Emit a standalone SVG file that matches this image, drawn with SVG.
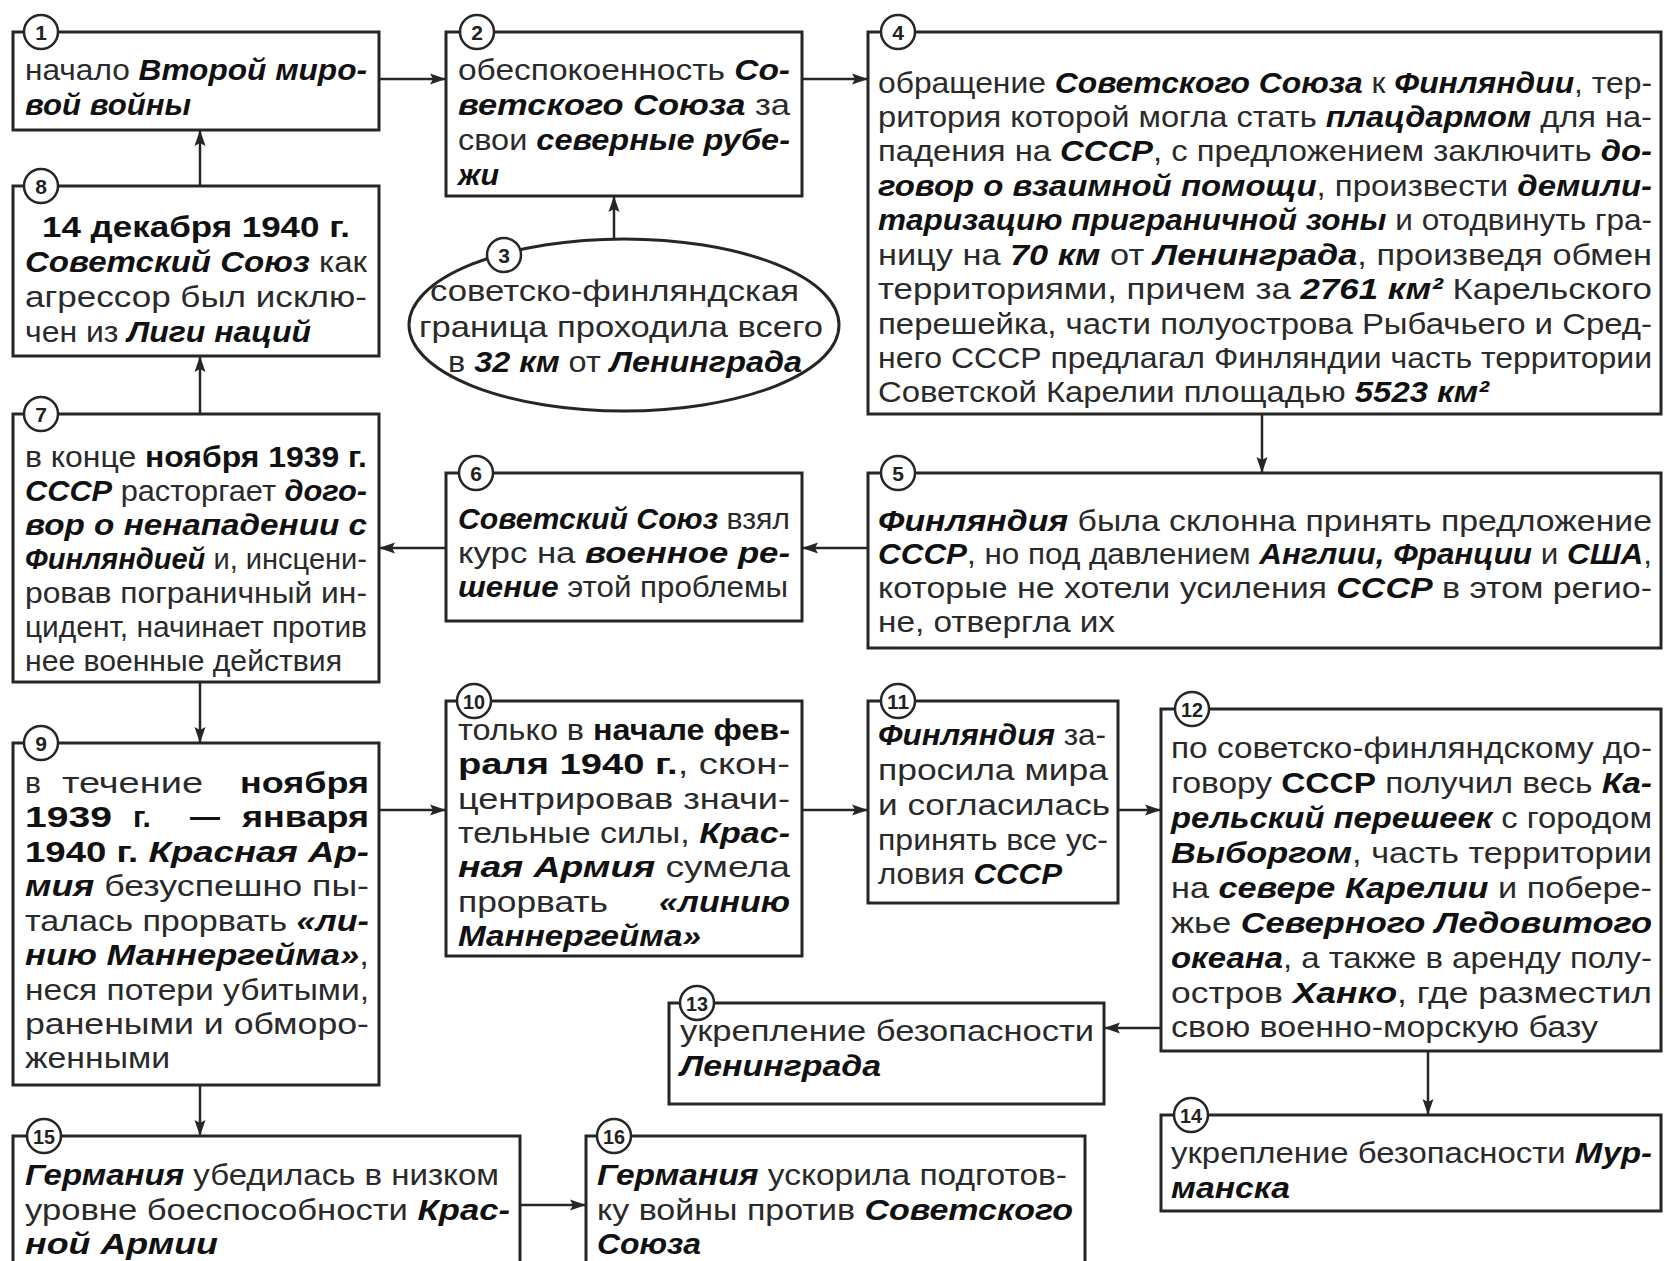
<svg xmlns="http://www.w3.org/2000/svg" width="1665" height="1261" viewBox="0 0 1665 1261">
<style>
.box{fill:#fff;stroke:#262626;stroke-width:3}
.num{fill:#fff;stroke:#262626;stroke-width:2.5}
.t{font-family:"Liberation Sans",Arial,sans-serif;font-size:30px;fill:#2a2a2a}
.b{font-weight:bold;font-style:italic;fill:#111}
.bu{font-weight:bold;fill:#111}
.n{font-family:"Liberation Sans",Arial,sans-serif;font-size:21px;font-weight:bold;fill:#222;text-anchor:middle}
.c{stroke:#262626;stroke-width:2.5;fill:none;marker-end:url(#ah)}
</style>
<defs>
<marker id="ah" markerUnits="userSpaceOnUse" markerWidth="18" markerHeight="14" refX="16" refY="7" orient="auto">
<path d="M0,1.5 L16,7 L0,12.5 L3,7 z" fill="#262626"/>
</marker>
</defs>
<rect width="1665" height="1261" fill="#fff"/>

<g id="connectors">
<line class="c" x1="379" y1="79" x2="446" y2="79"/>
<line class="c" x1="802" y1="79" x2="868" y2="79"/>
<line class="c" x1="200" y1="186" x2="200" y2="130"/>
<line class="c" x1="614" y1="239" x2="614" y2="196"/>
<line class="c" x1="200" y1="414" x2="200" y2="356"/>
<line class="c" x1="1262" y1="414" x2="1262" y2="473"/>
<line class="c" x1="868" y1="548" x2="802" y2="548"/>
<line class="c" x1="446" y1="548" x2="379" y2="548"/>
<line class="c" x1="200" y1="680" x2="200" y2="743"/>
<line class="c" x1="379" y1="810" x2="446" y2="810"/>
<line class="c" x1="802" y1="810" x2="868" y2="810"/>
<line class="c" x1="1118" y1="810" x2="1161" y2="810"/>
<line class="c" x1="1161" y1="1028" x2="1104" y2="1028"/>
<line class="c" x1="1428" y1="1051" x2="1428" y2="1115"/>
<line class="c" x1="200" y1="1085" x2="200" y2="1136"/>
<line class="c" x1="520" y1="1205" x2="586" y2="1205"/>
</g>

<g id="node1">
<rect class="box" x="13" y="32" width="366" height="98"/>
<circle class="num" cx="41" cy="32" r="17"/><text class="n" x="41" y="40">1</text>
<text class="t" x="25" y="80" textLength="342" lengthAdjust="spacingAndGlyphs">начало <tspan class="b">Второй миро-</tspan></text>
<text class="t" x="25" y="115" textLength="166" lengthAdjust="spacingAndGlyphs"><tspan class="b">вой войны</tspan></text>
</g>

<g id="node2">
<rect class="box" x="446" y="32" width="356" height="164"/>
<circle class="num" cx="477" cy="32" r="17"/><text class="n" x="477" y="40">2</text>
<text class="t" x="458" y="80" textLength="332" lengthAdjust="spacingAndGlyphs">обеспокоенность <tspan class="b">Со-</tspan></text>
<text class="t" x="458" y="115" textLength="332" lengthAdjust="spacingAndGlyphs"><tspan class="b">ветского Союза</tspan> за</text>
<text class="t" x="458" y="150" textLength="332" lengthAdjust="spacingAndGlyphs">свои <tspan class="b">северные рубе-</tspan></text>
<text class="t" x="458" y="185" textLength="41" lengthAdjust="spacingAndGlyphs"><tspan class="b">жи</tspan></text>
</g>

<g id="node3">
<ellipse class="box" cx="624" cy="325" rx="215" ry="86"/>
<circle class="num" cx="504" cy="255" r="17"/><text class="n" x="504" y="263">3</text>
<text class="t" x="430" y="301" textLength="369" lengthAdjust="spacingAndGlyphs">советско-финляндская</text>
<text class="t" x="419" y="337" textLength="404" lengthAdjust="spacingAndGlyphs">граница проходила всего</text>
<text class="t" x="448" y="372" textLength="354" lengthAdjust="spacingAndGlyphs">в <tspan class="b">32 км</tspan> от <tspan class="b">Ленинграда</tspan></text>
</g>

<g id="node4">
<rect class="box" x="868" y="32" width="793" height="382"/>
<circle class="num" cx="898" cy="32" r="17"/><text class="n" x="898" y="40">4</text>
<text class="t" x="878" y="93" textLength="774" lengthAdjust="spacingAndGlyphs">обращение <tspan class="b">Советского Союза</tspan> к <tspan class="b">Финляндии</tspan>, тер-</text>
<text class="t" x="878" y="127" textLength="774" lengthAdjust="spacingAndGlyphs">ритория которой могла стать <tspan class="b">плацдармом</tspan> для на-</text>
<text class="t" x="878" y="161" textLength="774" lengthAdjust="spacingAndGlyphs">падения на <tspan class="b">СССР</tspan>, с предложением заключить <tspan class="b">до-</tspan></text>
<text class="t" x="878" y="196" textLength="774" lengthAdjust="spacingAndGlyphs"><tspan class="b">говор о взаимной помощи</tspan>, произвести <tspan class="b">демили-</tspan></text>
<text class="t" x="878" y="230" textLength="774" lengthAdjust="spacingAndGlyphs"><tspan class="b">таризацию приграничной зоны</tspan> и отодвинуть гра-</text>
<text class="t" x="878" y="265" textLength="774" lengthAdjust="spacingAndGlyphs">ницу на <tspan class="b">70 км</tspan> от <tspan class="b">Ленинграда</tspan>, произведя обмен</text>
<text class="t" x="878" y="299" textLength="774" lengthAdjust="spacingAndGlyphs">территориями, причем за <tspan class="b">2761 км²</tspan> Карельского</text>
<text class="t" x="878" y="334" textLength="774" lengthAdjust="spacingAndGlyphs">перешейка, части полуострова Рыбачьего и Сред-</text>
<text class="t" x="878" y="368" textLength="774" lengthAdjust="spacingAndGlyphs">него СССР предлагал Финляндии часть территории</text>
<text class="t" x="878" y="402" textLength="611" lengthAdjust="spacingAndGlyphs">Советской Карелии площадью <tspan class="b">5523 км²</tspan></text>
</g>

<g id="node8">
<rect class="box" x="13" y="186" width="366" height="170"/>
<circle class="num" cx="41" cy="186" r="17"/><text class="n" x="41" y="194">8</text>
<text class="t" x="42" y="237" textLength="308" lengthAdjust="spacingAndGlyphs"><tspan class="bu">14 декабря 1940 г.</tspan></text>
<text class="t" x="25" y="272" textLength="342" lengthAdjust="spacingAndGlyphs"><tspan class="b">Советский Союз</tspan> как</text>
<text class="t" x="25" y="307" textLength="342" lengthAdjust="spacingAndGlyphs">агрессор был исклю-</text>
<text class="t" x="25" y="342" textLength="286" lengthAdjust="spacingAndGlyphs">чен из <tspan class="b">Лиги наций</tspan></text>
</g>

<g id="node7">
<rect class="box" x="13" y="414" width="366" height="268"/>
<circle class="num" cx="41" cy="414" r="17"/><text class="n" x="41" y="422">7</text>
<text class="t" x="25" y="467" textLength="342" lengthAdjust="spacingAndGlyphs">в конце <tspan class="bu">ноября 1939 г.</tspan></text>
<text class="t" x="25" y="501" textLength="342" lengthAdjust="spacingAndGlyphs"><tspan class="b">СССР</tspan> расторгает <tspan class="b">дого-</tspan></text>
<text class="t" x="25" y="535" textLength="342" lengthAdjust="spacingAndGlyphs"><tspan class="b">вор о ненападении с</tspan></text>
<text class="t" x="25" y="569" textLength="342" lengthAdjust="spacingAndGlyphs"><tspan class="b">Финляндией</tspan> и, инсцени-</text>
<text class="t" x="25" y="603" textLength="342" lengthAdjust="spacingAndGlyphs">ровав пограничный ин-</text>
<text class="t" x="25" y="637" textLength="342" lengthAdjust="spacingAndGlyphs">цидент, начинает против</text>
<text class="t" x="25" y="671" textLength="317" lengthAdjust="spacingAndGlyphs">нее военные действия</text>
</g>

<g id="node6">
<rect class="box" x="446" y="473" width="356" height="148"/>
<circle class="num" cx="476" cy="473" r="17"/><text class="n" x="476" y="481">6</text>
<text class="t" x="458" y="529" textLength="332" lengthAdjust="spacingAndGlyphs"><tspan class="b">Советский Союз</tspan> взял</text>
<text class="t" x="458" y="563" textLength="332" lengthAdjust="spacingAndGlyphs">курс на <tspan class="b">военное ре-</tspan></text>
<text class="t" x="458" y="597" textLength="330" lengthAdjust="spacingAndGlyphs"><tspan class="b">шение</tspan> этой проблемы</text>
</g>

<g id="node5">
<rect class="box" x="868" y="473" width="793" height="175"/>
<circle class="num" cx="898" cy="473" r="17"/><text class="n" x="898" y="481">5</text>
<text class="t" x="878" y="531" textLength="774" lengthAdjust="spacingAndGlyphs"><tspan class="b">Финляндия</tspan> была склонна принять предложение</text>
<text class="t" x="878" y="564" textLength="774" lengthAdjust="spacingAndGlyphs"><tspan class="b">СССР</tspan>, но под давлением <tspan class="b">Англии, Франции</tspan> и <tspan class="b">США</tspan>,</text>
<text class="t" x="878" y="598" textLength="774" lengthAdjust="spacingAndGlyphs">которые не хотели усиления <tspan class="b">СССР</tspan> в этом регио-</text>
<text class="t" x="878" y="632" textLength="237" lengthAdjust="spacingAndGlyphs">не, отвергла их</text>
</g>

<g id="node9">
<rect class="box" x="13" y="743" width="366" height="342"/>
<circle class="num" cx="41" cy="743" r="17"/><text class="n" x="41" y="751">9</text>
<text class="t" y="793"><tspan x="25">в</tspan><tspan x="62" textLength="141" lengthAdjust="spacingAndGlyphs">течение</tspan><tspan class="bu" x="240" textLength="129" lengthAdjust="spacingAndGlyphs">ноября</tspan></text>
<text class="t bu" y="827"><tspan x="25" textLength="87" lengthAdjust="spacingAndGlyphs">1939</tspan><tspan x="133">г.</tspan><tspan x="190">—</tspan><tspan x="242" textLength="127" lengthAdjust="spacingAndGlyphs">января</tspan></text>
<text class="t" x="25" y="862" textLength="344" lengthAdjust="spacingAndGlyphs"><tspan class="bu">1940 г. </tspan><tspan class="b">Красная Ар-</tspan></text>
<text class="t" x="25" y="896" textLength="344" lengthAdjust="spacingAndGlyphs"><tspan class="b">мия</tspan> безуспешно пы-</text>
<text class="t" x="25" y="931" textLength="344" lengthAdjust="spacingAndGlyphs">талась прорвать <tspan class="b">«ли-</tspan></text>
<text class="t" x="25" y="965" textLength="344" lengthAdjust="spacingAndGlyphs"><tspan class="b">нию Маннергейма»</tspan>,</text>
<text class="t" x="25" y="1000" textLength="344" lengthAdjust="spacingAndGlyphs">неся потери убитыми,</text>
<text class="t" x="25" y="1034" textLength="344" lengthAdjust="spacingAndGlyphs">ранеными и обморо-</text>
<text class="t" x="25" y="1068" textLength="145" lengthAdjust="spacingAndGlyphs">женными</text>
</g>

<g id="node10">
<rect class="box" x="446" y="701" width="356" height="255"/>
<circle class="num" cx="474" cy="701" r="17"/><text class="n" x="474" y="709" textLength="22" lengthAdjust="spacingAndGlyphs">10</text>
<text class="t" x="458" y="740" textLength="332" lengthAdjust="spacingAndGlyphs">только в <tspan class="bu">начале фев-</tspan></text>
<text class="t" x="458" y="774" textLength="332" lengthAdjust="spacingAndGlyphs"><tspan class="bu">раля 1940 г.</tspan>, скон-</text>
<text class="t" x="458" y="809" textLength="332" lengthAdjust="spacingAndGlyphs">центрировав значи-</text>
<text class="t" x="458" y="843" textLength="332" lengthAdjust="spacingAndGlyphs">тельные силы, <tspan class="b">Крас-</tspan></text>
<text class="t" x="458" y="877" textLength="332" lengthAdjust="spacingAndGlyphs"><tspan class="b">ная Армия</tspan> сумела</text>
<text class="t" y="912"><tspan x="458" textLength="150" lengthAdjust="spacingAndGlyphs">прорвать</tspan><tspan class="b" x="659" textLength="131" lengthAdjust="spacingAndGlyphs">«линию</tspan></text>
<text class="t" x="458" y="946" textLength="243" lengthAdjust="spacingAndGlyphs"><tspan class="b">Маннергейма»</tspan></text>
</g>

<g id="node11">
<rect class="box" x="868" y="701" width="250" height="202"/>
<circle class="num" cx="898" cy="701" r="17"/><text class="n" x="898" y="709" textLength="22" lengthAdjust="spacingAndGlyphs">11</text>
<text class="t" x="878" y="745" textLength="228" lengthAdjust="spacingAndGlyphs"><tspan class="b">Финляндия</tspan> за-</text>
<text class="t" x="878" y="780" textLength="230" lengthAdjust="spacingAndGlyphs">просила мира</text>
<text class="t" x="878" y="815" textLength="232" lengthAdjust="spacingAndGlyphs">и согласилась</text>
<text class="t" x="878" y="850" textLength="230" lengthAdjust="spacingAndGlyphs">принять все ус-</text>
<text class="t" x="878" y="884" textLength="184" lengthAdjust="spacingAndGlyphs">ловия <tspan class="b">СССР</tspan></text>
</g>

<g id="node12">
<rect class="box" x="1161" y="709" width="500" height="342"/>
<circle class="num" cx="1192" cy="709" r="17"/><text class="n" x="1192" y="717" textLength="22" lengthAdjust="spacingAndGlyphs">12</text>
<text class="t" x="1171" y="758" textLength="481" lengthAdjust="spacingAndGlyphs">по советско-финляндскому до-</text>
<text class="t" x="1171" y="793" textLength="481" lengthAdjust="spacingAndGlyphs">говору <tspan class="bu">СССР</tspan> получил весь <tspan class="b">Ка-</tspan></text>
<text class="t" x="1171" y="828" textLength="481" lengthAdjust="spacingAndGlyphs"><tspan class="b">рельский перешеек</tspan> с городом</text>
<text class="t" x="1171" y="863" textLength="481" lengthAdjust="spacingAndGlyphs"><tspan class="b">Выборгом</tspan>, часть территории</text>
<text class="t" x="1171" y="898" textLength="481" lengthAdjust="spacingAndGlyphs">на <tspan class="b">севере Карелии</tspan> и побере-</text>
<text class="t" x="1171" y="933" textLength="481" lengthAdjust="spacingAndGlyphs">жье <tspan class="b">Северного Ледовитого</tspan></text>
<text class="t" x="1171" y="968" textLength="481" lengthAdjust="spacingAndGlyphs"><tspan class="b">океана</tspan>, а также в аренду полу-</text>
<text class="t" x="1171" y="1003" textLength="481" lengthAdjust="spacingAndGlyphs">остров <tspan class="b">Ханко</tspan>, где разместил</text>
<text class="t" x="1171" y="1037" textLength="427" lengthAdjust="spacingAndGlyphs">свою военно-морскую базу</text>
</g>

<g id="node13">
<rect class="box" x="669" y="1003" width="435" height="101"/>
<circle class="num" cx="697" cy="1003" r="17"/><text class="n" x="697" y="1011" textLength="22" lengthAdjust="spacingAndGlyphs">13</text>
<text class="t" x="680" y="1041" textLength="414" lengthAdjust="spacingAndGlyphs">укрепление безопасности</text>
<text class="t" x="680" y="1076" textLength="201" lengthAdjust="spacingAndGlyphs"><tspan class="b">Ленинграда</tspan></text>
</g>

<g id="node14">
<rect class="box" x="1161" y="1115" width="500" height="96"/>
<circle class="num" cx="1191" cy="1115" r="17"/><text class="n" x="1191" y="1123" textLength="22" lengthAdjust="spacingAndGlyphs">14</text>
<text class="t" x="1171" y="1163" textLength="481" lengthAdjust="spacingAndGlyphs">укрепление безопасности <tspan class="b">Мур-</tspan></text>
<text class="t" x="1171" y="1198" textLength="119" lengthAdjust="spacingAndGlyphs"><tspan class="b">манска</tspan></text>
</g>

<g id="node15">
<rect class="box" x="13" y="1136" width="507" height="140"/>
<circle class="num" cx="44" cy="1136" r="17"/><text class="n" x="44" y="1144" textLength="22" lengthAdjust="spacingAndGlyphs">15</text>
<text class="t" x="25" y="1185" textLength="474" lengthAdjust="spacingAndGlyphs"><tspan class="b">Германия</tspan> убедилась в низком</text>
<text class="t" x="25" y="1220" textLength="485" lengthAdjust="spacingAndGlyphs">уровне боеспособности <tspan class="b">Крас-</tspan></text>
<text class="t" x="25" y="1254" textLength="193" lengthAdjust="spacingAndGlyphs"><tspan class="b">ной Армии</tspan></text>
</g>

<g id="node16">
<rect class="box" x="586" y="1136" width="499" height="140"/>
<circle class="num" cx="614" cy="1136" r="17"/><text class="n" x="614" y="1144" textLength="22" lengthAdjust="spacingAndGlyphs">16</text>
<text class="t" x="597" y="1185" textLength="470" lengthAdjust="spacingAndGlyphs"><tspan class="b">Германия</tspan> ускорила подготов-</text>
<text class="t" x="597" y="1220" textLength="476" lengthAdjust="spacingAndGlyphs">ку войны против <tspan class="b">Советского</tspan></text>
<text class="t" x="597" y="1254" textLength="104" lengthAdjust="spacingAndGlyphs"><tspan class="b">Союза</tspan></text>
</g>
</svg>
